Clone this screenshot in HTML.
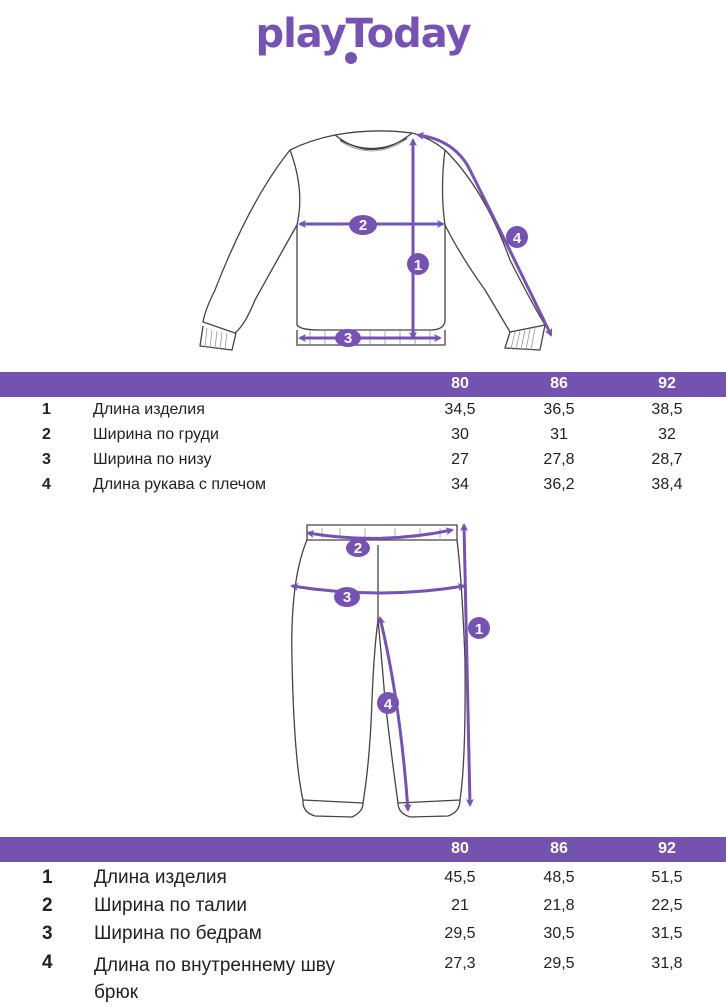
<!DOCTYPE html>
<html><head><meta charset="utf-8"><style>
html,body{margin:0;padding:0;background:#fff;}
body{width:726px;height:1000px;position:relative;overflow:hidden;font-family:"Liberation Sans",sans-serif;}
.bar{position:absolute;left:0;width:726px;height:25px;background:#7352b0;}
.t{position:absolute;font-size:16px;color:#222;white-space:nowrap;}
.h{position:absolute;font-size:16px;color:#fff;font-weight:bold;transform:translateX(-50%);}
.c{transform:translateX(-50%);}
.b{font-weight:bold;}
</style></head><body>
<svg width="726" height="1000" style="position:absolute;left:0;top:0">
<defs>
<marker id="a" markerWidth="8" markerHeight="8" refX="6" refY="4" orient="auto-start-reverse" markerUnits="userSpaceOnUse" viewBox="0 0 8 8"><path d="M0,0 L8,4 L0,8 L2,4 Z" fill="#7652b5"/></marker>
</defs>
<text x="363" y="47" text-anchor="middle" font-family="DejaVu Sans" font-weight="bold" font-size="40" fill="#7652b5" letter-spacing="-1">playToday</text>
<circle cx="351" cy="58" r="6" fill="#7652b5"/>
<g fill="none" stroke="#444" stroke-width="1.3">
<!-- sweater -->
<path d="M290,150 Q310,140 335,135 Q373,128 412,133 Q430,138 445,150"/>
<path d="M335,135 Q373,165 412,133"/>
<path d="M340,140 Q373,158 407,138"/>
<path d="M290,150 Q250,200 215,290 Q205,310 203,322 L235,333 Q245,325 255,300 Q280,255 297,225 Q305,190 290,150"/>
<path d="M203,326 L200,346 L232,350 L236,333"/>
<path d="M297,225 L297,325 Q300,330 320,330 L430,330 Q445,330 445,320 L445,225 Q440,190 445,150"/>
<path d="M297,330 L297,345 L445,345 L445,330"/>
<path d="M445,150 Q485,190 510,260 Q530,300 545,325 L510,332 Q500,315 485,290 Q460,255 445,225"/>
<path d="M510,332 L505,348 L540,350 L545,325"/>
<!-- pants -->
<path d="M307,525 L457,525 L457,540 L307,540 Z"/>
<path d="M307,540 Q290,580 292,660 Q294,760 303,800 L363,803 Q370,760 372,700 Q374,650 378,620 Q381,650 385,700 Q392,760 398,803 L460,800 Q466,760 465,660 Q462,580 457,540"/>
<path d="M378,545 L378,620"/>
<path d="M303,800 Q302,812 315,816 L352,817 Q363,812 363,803"/>
<path d="M398,803 Q398,813 410,817 L448,816 Q460,812 460,800"/>
</g>
<g stroke="#999" stroke-width="0.8" fill="none">
<path d="M207,328 L205,347 M212,330 L210,348 M217,331 L215,348 M222,332 L220,349 M227,333 L225,349"/>
<path d="M515,332 L511,349 M520,331 L516,349 M525,330 L521,349 M530,329 L526,350 M535,328 L531,350"/>
<path d="M310,330 V345 M325,330 V345 M340,330 V345 M355,330 V345 M370,330 V345 M385,330 V345 M400,330 V345 M415,330 V345 M430,330 V345"/>
<path d="M340,141 Q373,162 407,139"/>
<path d="M322,528 V538 M340,528 V538 M365,528 V538 M395,528 V538 M420,528 V538 M440,528 V538"/>
</g>
<g stroke="#7652b5" stroke-width="3" fill="none">
<line x1="413" y1="140" x2="413" y2="338" marker-start="url(#a)" marker-end="url(#a)"/>
<line x1="300" y1="224" x2="443" y2="224" marker-start="url(#a)" marker-end="url(#a)"/>
<line x1="300" y1="338" x2="440" y2="338" marker-start="url(#a)" marker-end="url(#a)"/>
<path d="M418,135 Q455,140 470,170 Q510,250 551,335" marker-start="url(#a)" marker-end="url(#a)"/>
<path d="M308,533 Q380,545 452,530" marker-start="url(#a)" marker-end="url(#a)"/>
<path d="M292,586 Q380,600 464,586" marker-start="url(#a)" marker-end="url(#a)"/>
<line x1="464" y1="525" x2="470" y2="805" marker-start="url(#a)" marker-end="url(#a)"/>
<path d="M380,618 Q400,700 408,810" marker-start="url(#a)" marker-end="url(#a)"/>
</g>
<g fill="#7652b5">
<ellipse cx="363" cy="225" rx="14" ry="10"/>
<ellipse cx="418" cy="264" rx="11" ry="11"/>
<ellipse cx="348" cy="338" rx="13" ry="9"/>
<ellipse cx="517" cy="237" rx="11" ry="11"/>
<ellipse cx="358" cy="548" rx="12" ry="9"/>
<ellipse cx="347" cy="597" rx="13" ry="10"/>
<ellipse cx="479" cy="628" rx="11" ry="11"/>
<ellipse cx="388" cy="703" rx="11" ry="11"/>
</g>
<g fill="#fff" font-family="Liberation Sans" font-weight="bold" font-size="15" text-anchor="middle">
<text x="363" y="230">2</text><text x="418" y="270">1</text><text x="348" y="343">3</text><text x="517" y="243">4</text>
<text x="358" y="553">2</text><text x="347" y="602">3</text><text x="479" y="634">1</text><text x="388" y="709">4</text>
</g>
</svg>
<div class="bar" style="top:372px"></div>
<div class="h" style="left:460px;top:375px">80</div>
<div class="h" style="left:559px;top:375px">86</div>
<div class="h" style="left:667px;top:375px">92</div>
<div class="t b" style="left:42px;top:401px">1</div><div class="t" style="left:93px;top:401px">Длина изделия</div>
<div class="t c" style="left:460px;top:401px">34,5</div><div class="t c" style="left:559px;top:401px">36,5</div><div class="t c" style="left:667px;top:401px">38,5</div>
<div class="t b" style="left:42px;top:426px">2</div><div class="t" style="left:93px;top:426px">Ширина по груди</div>
<div class="t c" style="left:460px;top:426px">30</div><div class="t c" style="left:559px;top:426px">31</div><div class="t c" style="left:667px;top:426px">32</div>
<div class="t b" style="left:42px;top:451px">3</div><div class="t" style="left:93px;top:451px">Ширина по низу</div>
<div class="t c" style="left:460px;top:451px">27</div><div class="t c" style="left:559px;top:451px">27,8</div><div class="t c" style="left:667px;top:451px">28,7</div>
<div class="t b" style="left:42px;top:476px">4</div><div class="t" style="left:93px;top:476px">Длина рукава с плечом</div>
<div class="t c" style="left:460px;top:476px">34</div><div class="t c" style="left:559px;top:476px">36,2</div><div class="t c" style="left:667px;top:476px">38,4</div>

<div class="bar" style="top:837px"></div>
<div class="h" style="left:460px;top:840px">80</div>
<div class="h" style="left:559px;top:840px">86</div>
<div class="h" style="left:667px;top:840px">92</div>
<div class="t b" style="left:42px;top:867px;font-size:19px">1</div><div class="t" style="left:94px;top:867px;font-size:19px">Длина изделия</div>
<div class="t c" style="left:460px;top:869px">45,5</div><div class="t c" style="left:559px;top:869px">48,5</div><div class="t c" style="left:667px;top:869px">51,5</div>
<div class="t b" style="left:42px;top:895px;font-size:19px">2</div><div class="t" style="left:94px;top:895px;font-size:19px">Ширина по талии</div>
<div class="t c" style="left:460px;top:897px">21</div><div class="t c" style="left:559px;top:897px">21,8</div><div class="t c" style="left:667px;top:897px">22,5</div>
<div class="t b" style="left:42px;top:923px;font-size:19px">3</div><div class="t" style="left:94px;top:923px;font-size:19px">Ширина по бедрам</div>
<div class="t c" style="left:460px;top:925px">29,5</div><div class="t c" style="left:559px;top:925px">30,5</div><div class="t c" style="left:667px;top:925px">31,5</div>
<div class="t b" style="left:42px;top:952px;font-size:19px">4</div><div class="t" style="left:94px;top:952px;font-size:19px;line-height:27px">Длина по внутреннему шву<br>брюк</div>
<div class="t c" style="left:460px;top:955px">27,3</div><div class="t c" style="left:559px;top:955px">29,5</div><div class="t c" style="left:667px;top:955px">31,8</div>
</body></html>
